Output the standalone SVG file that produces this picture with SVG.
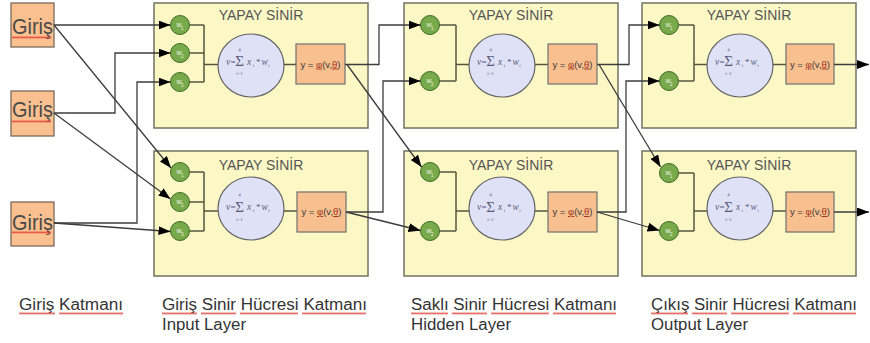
<svg xmlns="http://www.w3.org/2000/svg" width="870" height="343" viewBox="0 0 870 343">
<style>
  .bg{fill:#ffffff}
  .layer{fill:#fbf8c6;stroke:#727262;stroke-width:1.5}
  .inp{fill:#fbc08f;stroke:#7a6a5a;stroke-width:1.3}
  .inpt{font-family:"Liberation Sans",Arial,sans-serif;font-size:22px;fill:#4a4a4a}
  .title{font-family:"Liberation Sans",Arial,sans-serif;font-size:14px;fill:#555;text-anchor:middle}
  .wc{fill:#78a94b;stroke:#3d6a20;stroke-width:1}
  .wt{font-family:"Liberation Sans",Arial,sans-serif;font-size:7px;fill:#eef2e4}
  .ws{font-family:"Liberation Sans",Arial,sans-serif;font-size:4.5px;fill:#eef2e4}
  .sum{fill:#dfe1f7;stroke:#666;stroke-width:1.2}
  .fm{font-family:"Liberation Serif","Times New Roman",serif;font-style:italic;font-size:9.5px;fill:#5a5a78}
  .fo{font-family:"Liberation Serif","Times New Roman",serif;font-size:9px;fill:#5a5a78}
  .fs{font-family:"Liberation Serif","Times New Roman",serif;font-size:5px;fill:#5a5a78;text-anchor:middle}
  .sig{font-family:"Liberation Serif","Times New Roman",serif;font-size:15px;fill:#5a5a78;text-anchor:middle}
  .act{fill:#f9c08f;stroke:#707070;stroke-width:1.2}
  .at{font-family:"Liberation Sans",Arial,sans-serif;font-size:9.5px;fill:#3a3a3a;text-anchor:middle}
  .red{fill:#a03020;text-decoration:underline}
  .int{fill:none;stroke:#55553f;stroke-width:1.5}
  .conn{fill:none;stroke:#3c3c3c;stroke-width:1.3}
  .lbl{font-family:"Liberation Sans",Arial,sans-serif;font-size:16px;fill:#333}
  .sq{fill:url(#sq)}
</style>
<defs>
  <marker id="ah" markerWidth="13" markerHeight="10" refX="12" refY="4.5" orient="auto" markerUnits="userSpaceOnUse">
    <path d="M0,0 L12,4.5 L0,9 z" fill="#000"/>
  </marker>
  <pattern id="sq" width="4" height="3" patternUnits="userSpaceOnUse">
    <path d="M0,2.5 L1,0.5 L2,2.5 L3,0.5 L4,2.5" fill="none" stroke="#e0302a" stroke-width="0.7"/>
  </pattern>
</defs>
<rect class="bg" x="0" y="0" width="870" height="343"/>

<!-- Inputs -->
<g id="input1">
  <rect class="inp" x="11" y="3" width="43" height="44"/>
  <text class="inpt" x="12" y="34" textLength="41" lengthAdjust="spacingAndGlyphs">Giriş</text>
  <rect class="sq" x="12" y="36" width="39" height="3"/>
</g>
<g id="input2">
  <rect class="inp" x="11" y="91" width="43" height="45"/>
  <text class="inpt" x="12" y="117" textLength="41" lengthAdjust="spacingAndGlyphs">Giriş</text>
  <rect class="sq" x="12" y="120" width="39" height="3"/>
</g>
<g id="input3">
  <rect class="inp" x="11" y="202" width="43" height="44"/>
  <text class="inpt" x="12" y="230" textLength="41" lengthAdjust="spacingAndGlyphs">Giriş</text>
  <rect class="sq" x="12" y="231" width="39" height="3"/>
</g>

<!-- Neuron col1 top -->
<g id="n1a">
  <rect class="layer" x="154" y="3" width="214" height="125"/>
  <text class="title" x="261" y="20">YAPAY SİNİR</text>
  <path class="int" d="M189.5,25 H204 M189.5,53 H204 M189.5,82 H204 M204,25 V82 M204,64.5 H218"/>
  <circle class="wc" cx="180" cy="25" r="9.5"/><text class="wt" x="176.5" y="27">w</text><text class="ws" x="181" y="30">1</text>
  <circle class="wc" cx="180" cy="53" r="9.5"/><text class="wt" x="176.5" y="55">w</text><text class="ws" x="181" y="58">2</text>
  <circle class="wc" cx="180" cy="82" r="9.5"/><text class="wt" x="176.5" y="84">w</text><text class="ws" x="181" y="87">3</text>
  <ellipse class="sum" cx="251" cy="65.5" rx="33" ry="31.5"/>
  <text class="fm" x="226" y="64.5">v</text><text class="fo" x="230.5" y="64.5">=</text>
  <text class="sig" x="239.5" y="66">Σ</text><text class="fs" x="239.5" y="50.5">4</text><text class="fs" x="239.5" y="75">i=1</text>
  <text class="fm" x="247" y="64.5">x</text><text class="fs" x="253.5" y="66.5">i</text>
  <text class="fo" x="256" y="64.5">*</text>
  <text class="fm" x="261.5" y="64.5">w</text><text class="fs" x="269" y="66.5">i</text>
  <path class="int" d="M284,64.5 H296"/>
  <rect class="act" x="296" y="44" width="49" height="40"/>
  <text class="at" x="320.5" y="67.5">y = <tspan class="red">φ</tspan>(v,<tspan class="red">θ</tspan>)</text>
</g>

<!-- Neuron col1 bottom -->
<g id="n1b">
  <rect class="layer" x="154" y="151" width="214" height="125"/>
  <text class="title" x="261" y="170">YAPAY SİNİR</text>
  <path class="int" d="M189.5,172 H204 M189.5,202 H204 M189.5,231 H204 M204,172 V231 M204,211 H219"/>
  <circle class="wc" cx="180" cy="172" r="9.5"/><text class="wt" x="176.5" y="174">w</text><text class="ws" x="181" y="177">1</text>
  <circle class="wc" cx="180" cy="202" r="9.5"/><text class="wt" x="176.5" y="204">w</text><text class="ws" x="181" y="207">2</text>
  <circle class="wc" cx="180" cy="231" r="9.5"/><text class="wt" x="176.5" y="233">w</text><text class="ws" x="181" y="236">3</text>
  <ellipse class="sum" cx="251" cy="208.5" rx="33" ry="31.5"/>
  <text class="fm" x="226" y="210">v</text><text class="fo" x="230.5" y="210">=</text>
  <text class="sig" x="239.5" y="211.5">Σ</text><text class="fs" x="239.5" y="196">4</text><text class="fs" x="239.5" y="220.5">i=1</text>
  <text class="fm" x="247" y="210">x</text><text class="fs" x="253.5" y="212">i</text>
  <text class="fo" x="256" y="210">*</text>
  <text class="fm" x="261.5" y="210">w</text><text class="fs" x="269" y="212">i</text>
  <path class="int" d="M284,211 H297"/>
  <rect class="act" x="297" y="192" width="49" height="40"/>
  <text class="at" x="321.5" y="215">y = <tspan class="red">φ</tspan>(v,<tspan class="red">θ</tspan>)</text>
</g>

<!-- Neuron col2 top -->
<g id="n2a">
  <rect class="layer" x="404" y="3" width="214" height="125"/>
  <text class="title" x="511" y="20">YAPAY SİNİR</text>
  <path class="int" d="M439.5,25 H456 M439.5,81 H456 M456,25 V81 M456,64.5 H469"/>
  <circle class="wc" cx="430" cy="25" r="9.5"/><text class="wt" x="426.5" y="27">w</text><text class="ws" x="431" y="30">1</text>
  <circle class="wc" cx="430" cy="81" r="9.5"/><text class="wt" x="426.5" y="83">w</text><text class="ws" x="431" y="86">2</text>
  <ellipse class="sum" cx="502" cy="65.5" rx="33" ry="31.5"/>
  <text class="fm" x="477" y="64.5">v</text><text class="fo" x="481.5" y="64.5">=</text>
  <text class="sig" x="490.5" y="66">Σ</text><text class="fs" x="490.5" y="50.5">4</text><text class="fs" x="490.5" y="75">i=1</text>
  <text class="fm" x="498" y="64.5">x</text><text class="fs" x="504.5" y="66.5">i</text>
  <text class="fo" x="507" y="64.5">*</text>
  <text class="fm" x="512.5" y="64.5">w</text><text class="fs" x="520" y="66.5">i</text>
  <path class="int" d="M535,64.5 H548"/>
  <rect class="act" x="548" y="44" width="49" height="40"/>
  <text class="at" x="572.5" y="67.5">y = <tspan class="red">φ</tspan>(v,<tspan class="red">θ</tspan>)</text>
</g>

<!-- Neuron col2 bottom -->
<g id="n2b">
  <rect class="layer" x="404" y="151" width="214" height="125"/>
  <text class="title" x="511" y="170">YAPAY SİNİR</text>
  <path class="int" d="M439.5,172 H456 M439.5,231 H456 M456,172 V231 M456,211 H470"/>
  <circle class="wc" cx="430" cy="172" r="9.5"/><text class="wt" x="426.5" y="174">w</text><text class="ws" x="431" y="177">1</text>
  <circle class="wc" cx="430" cy="231" r="9.5"/><text class="wt" x="426.5" y="233">w</text><text class="ws" x="431" y="236">2</text>
  <ellipse class="sum" cx="502" cy="208.5" rx="33" ry="31.5"/>
  <text class="fm" x="477" y="210">v</text><text class="fo" x="481.5" y="210">=</text>
  <text class="sig" x="490.5" y="211.5">Σ</text><text class="fs" x="490.5" y="196">4</text><text class="fs" x="490.5" y="220.5">i=1</text>
  <text class="fm" x="498" y="210">x</text><text class="fs" x="504.5" y="212">i</text>
  <text class="fo" x="507" y="210">*</text>
  <text class="fm" x="512.5" y="210">w</text><text class="fs" x="520" y="212">i</text>
  <path class="int" d="M535,211 H548"/>
  <rect class="act" x="548" y="192" width="49" height="40"/>
  <text class="at" x="572.5" y="215">y = <tspan class="red">φ</tspan>(v,<tspan class="red">θ</tspan>)</text>
</g>

<!-- Neuron col3 top -->
<g id="n3a">
  <rect class="layer" x="642" y="3" width="214" height="125"/>
  <text class="title" x="749" y="20">YAPAY SİNİR</text>
  <path class="int" d="M678.5,25 H694 M678.5,81 H694 M694,25 V81 M694,64.5 H707"/>
  <circle class="wc" cx="669" cy="25" r="9.5"/><text class="wt" x="665.5" y="27">w</text><text class="ws" x="670" y="30">1</text>
  <circle class="wc" cx="669" cy="81" r="9.5"/><text class="wt" x="665.5" y="83">w</text><text class="ws" x="670" y="86">2</text>
  <ellipse class="sum" cx="740" cy="65.5" rx="33" ry="31.5"/>
  <text class="fm" x="715" y="64.5">v</text><text class="fo" x="719.5" y="64.5">=</text>
  <text class="sig" x="728.5" y="66">Σ</text><text class="fs" x="728.5" y="50.5">4</text><text class="fs" x="728.5" y="75">i=1</text>
  <text class="fm" x="736" y="64.5">x</text><text class="fs" x="742.5" y="66.5">i</text>
  <text class="fo" x="745" y="64.5">*</text>
  <text class="fm" x="750.5" y="64.5">w</text><text class="fs" x="758" y="66.5">i</text>
  <path class="int" d="M773,64.5 H786"/>
  <rect class="act" x="786" y="44" width="48" height="40"/>
  <text class="at" x="810" y="67.5">y = <tspan class="red">φ</tspan>(v,<tspan class="red">θ</tspan>)</text>
</g>

<!-- Neuron col3 bottom -->
<g id="n3b">
  <rect class="layer" x="642" y="151" width="214" height="125"/>
  <text class="title" x="749" y="170">YAPAY SİNİR</text>
  <path class="int" d="M678.5,173 H694 M678.5,231 H694 M694,173 V231 M694,211 H708"/>
  <circle class="wc" cx="669" cy="173" r="9.5"/><text class="wt" x="665.5" y="175">w</text><text class="ws" x="670" y="178">1</text>
  <circle class="wc" cx="669" cy="231" r="9.5"/><text class="wt" x="665.5" y="233">w</text><text class="ws" x="670" y="236">2</text>
  <ellipse class="sum" cx="740" cy="208.5" rx="33" ry="31.5"/>
  <text class="fm" x="715" y="210">v</text><text class="fo" x="719.5" y="210">=</text>
  <text class="sig" x="728.5" y="211.5">Σ</text><text class="fs" x="728.5" y="196">4</text><text class="fs" x="728.5" y="220.5">i=1</text>
  <text class="fm" x="736" y="210">x</text><text class="fs" x="742.5" y="212">i</text>
  <text class="fo" x="745" y="210">*</text>
  <text class="fm" x="750.5" y="210">w</text><text class="fs" x="758" y="212">i</text>
  <path class="int" d="M773,211 H786"/>
  <rect class="act" x="786" y="192" width="48" height="40"/>
  <text class="at" x="810" y="215">y = <tspan class="red">φ</tspan>(v,<tspan class="red">θ</tspan>)</text>
</g>

<!-- Connectors -->
<g id="connectors">
  <path class="conn" marker-end="url(#ah)" d="M54,25 H170.5"/>
  <path class="conn" marker-end="url(#ah)" d="M54,25 L171,168"/>
  <path class="conn" marker-end="url(#ah)" d="M54,113 H115 V53 H170.5"/>
  <path class="conn" marker-end="url(#ah)" d="M54,113 L170.5,199"/>
  <path class="conn" marker-end="url(#ah)" d="M54,223 H137 V82 H170.5"/>
  <path class="conn" marker-end="url(#ah)" d="M54,223 L170.5,231.5"/>

  <path class="conn" marker-end="url(#ah)" d="M345,64.5 H379 V25 H420.5"/>
  <path class="conn" marker-end="url(#ah)" d="M347,64.5 L421.5,167"/>
  <path class="conn" marker-end="url(#ah)" d="M346,212 H383 V81 H420.5"/>
  <path class="conn" marker-end="url(#ah)" d="M346,212 L420.5,230.5"/>

  <path class="conn" marker-end="url(#ah)" d="M597,64.5 H629 V25 H659.5"/>
  <path class="conn" marker-end="url(#ah)" d="M599,64.5 L660.5,167"/>
  <path class="conn" marker-end="url(#ah)" d="M597,212 H626 V81 H659.5"/>
  <path class="conn" marker-end="url(#ah)" d="M597,212 L659.5,230.5"/>

  <path class="conn" marker-end="url(#ah)" d="M834,64.5 H869"/>
  <path class="conn" marker-end="url(#ah)" d="M834,212 H869"/>
</g>

<!-- Bottom labels -->
<g id="labels">
  <text class="lbl" x="19" y="310" textLength="104" lengthAdjust="spacingAndGlyphs">Giriş Katmanı</text>
  <text class="lbl" x="162" y="310" textLength="205" lengthAdjust="spacingAndGlyphs">Giriş Sinir Hücresi Katmanı</text>
  <text class="lbl" x="162" y="330" textLength="84" lengthAdjust="spacingAndGlyphs">Input Layer</text>
  <text class="lbl" x="411" y="310" textLength="206" lengthAdjust="spacingAndGlyphs">Saklı Sinir Hücresi Katmanı</text>
  <text class="lbl" x="411" y="330" textLength="100" lengthAdjust="spacingAndGlyphs">Hidden Layer</text>
  <text class="lbl" x="651" y="310" textLength="206" lengthAdjust="spacingAndGlyphs">Çıkış Sinir Hücresi Katmanı</text>
  <text class="lbl" x="651" y="330" textLength="97" lengthAdjust="spacingAndGlyphs">Output Layer</text>
  <rect class="sq" x="19" y="312" width="36" height="3"/>
  <rect class="sq" x="59" y="312" width="64" height="3"/>
  <rect class="sq" x="162" y="312" width="35" height="3"/>
  <rect class="sq" x="201" y="312" width="35" height="3"/>
  <rect class="sq" x="240" y="312" width="58" height="3"/>
  <rect class="sq" x="302" y="312" width="64" height="3"/>
  <rect class="sq" x="411" y="312" width="37" height="3"/>
  <rect class="sq" x="452" y="312" width="35" height="3"/>
  <rect class="sq" x="491" y="312" width="58" height="3"/>
  <rect class="sq" x="553" y="312" width="63" height="3"/>
  <rect class="sq" x="651" y="312" width="37" height="3"/>
  <rect class="sq" x="692" y="312" width="35" height="3"/>
  <rect class="sq" x="731" y="312" width="58" height="3"/>
  <rect class="sq" x="793" y="312" width="63" height="3"/>
</g>
</svg>
